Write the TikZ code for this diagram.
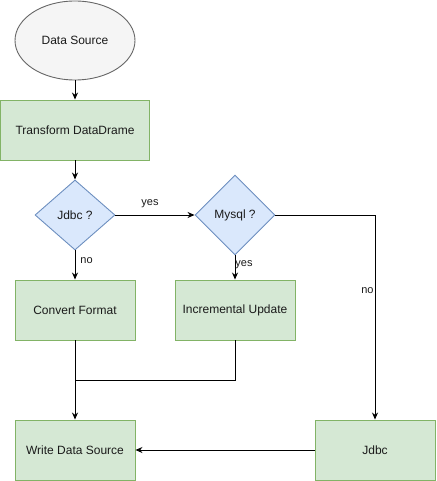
\documentclass[tikz,border=0pt]{standalone}
\usepackage{fontspec}
\setmainfont{Liberation Sans}
\usetikzlibrary{shapes.geometric,arrows.meta}
\definecolor{gfill}{HTML}{D5E8D4}
\definecolor{gline}{HTML}{82B366}
\definecolor{bfill}{HTML}{DAE8FC}
\definecolor{bline}{HTML}{6C8EBF}
\definecolor{efill}{HTML}{F5F5F5}
\definecolor{eline}{HTML}{666666}
\definecolor{txt}{HTML}{1A1A1A}
\tikzset{
  x=1pt, y=-1pt,
  greenbox/.style={draw=gline, fill=gfill, line width=0.9pt, minimum width=120pt, minimum height=60pt, inner sep=0pt, font=\fontsize{12}{14}\selectfont, text=txt},
  bluediam/.style={draw=bline, fill=bfill, line width=0.9pt, shape=diamond, minimum width=80pt, inner sep=0pt, font=\fontsize{12}{14}\selectfont, text=txt},
  conn/.style={draw=black, line width=0.9pt, -{Stealth[length=7pt,width=6pt]}},
  plainconn/.style={draw=black, line width=0.9pt},
  lbl/.style={font=\fontsize{11}{13}\selectfont, text=txt, inner sep=1pt},
}
\begin{document}
\begin{tikzpicture}
\useasboundingbox (0,0) rectangle (436,481);
\node[ellipse, draw=eline, fill=efill, line width=0.9pt, minimum width=120pt, minimum height=79pt, inner sep=0pt, font=\fontsize{12}{14}\selectfont, text=txt] (src) at (75,40.5) {Data Source};
\node[greenbox, minimum width=149pt] (tr) at (75,130) {Transform DataDrame};
\node[bluediam, minimum height=70pt] (jd) at (75,215) {Jdbc ?};
\node[bluediam, minimum height=80pt] (my) at (235,215) {Mysql ?};
\node[greenbox] (cf) at (75,310) {Convert Format};
\node[greenbox] (iu) at (235,310) {Incremental Update};
\node[greenbox] (wd) at (75,450) {Write Data Source};
\node[greenbox] (jb) at (375,450) {Jdbc};
\coordinate (mg) at (75,380);
\coordinate (rt) at (375,215);

\draw[conn] (src.south) -- (tr.north);
\draw[conn] (tr.south) -- (jd.north);
\draw[conn] (jd.east) -- node[lbl, above, yshift=6pt, xshift=-5pt] {yes} (my.west);
\draw[conn] (jd.south) -- node[lbl, right, xshift=4pt, pos=0.35] {no} (cf.north);
\draw[conn] (my.south) -- node[lbl, right, xshift=-1pt, pos=0.4] {yes} (iu.north);
\draw[conn] (my.east) -- (rt) -- node[lbl, left, pos=0.37] {no} (jb.north);
\draw[conn] (cf.south) -- (wd.north);
\draw[plainconn] (iu.south) |- (mg);
\draw[conn] (jb.west) -- (wd.east);
\end{tikzpicture}
\end{document}
